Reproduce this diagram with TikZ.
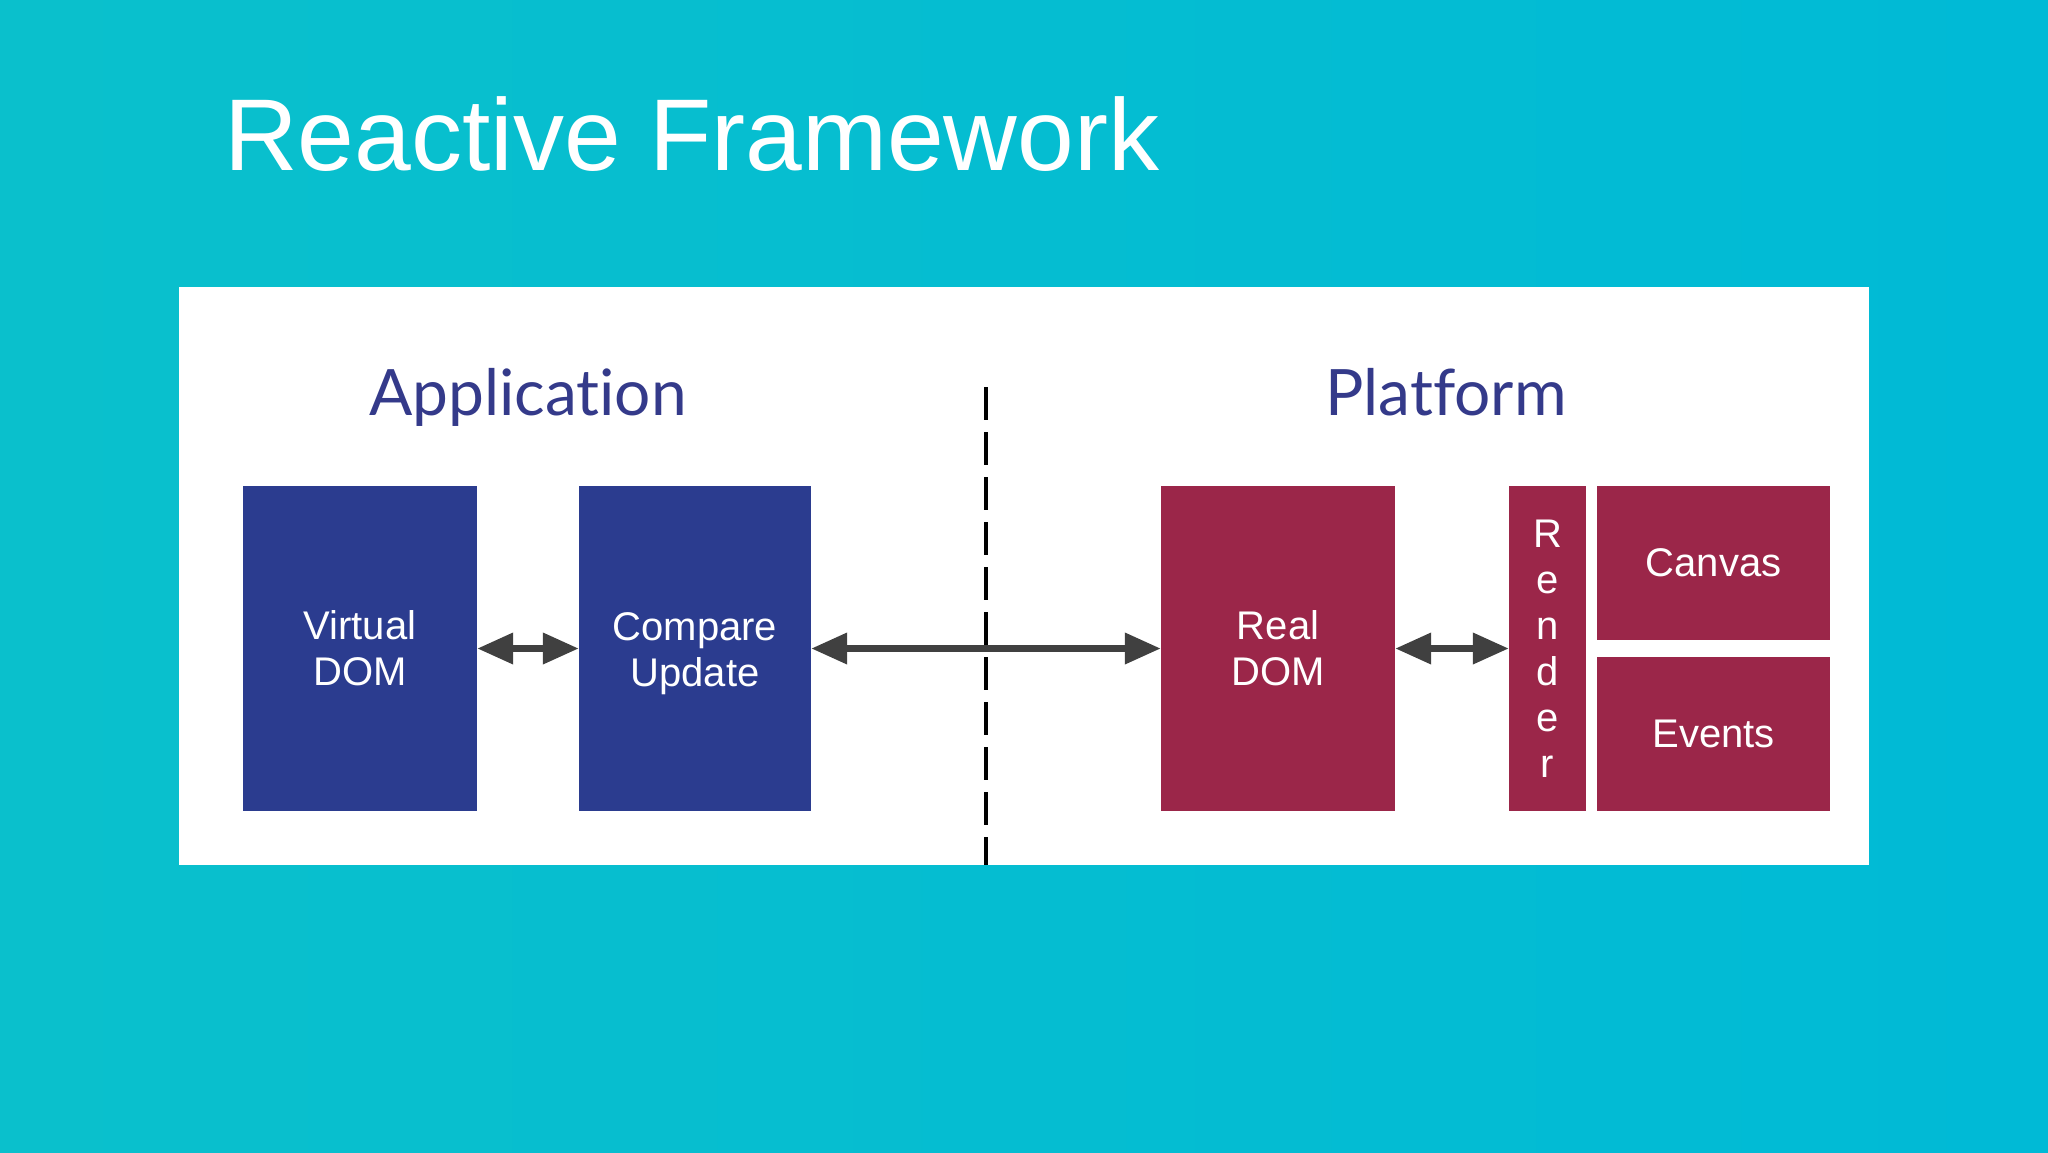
\documentclass[tikz,border=0pt]{standalone}
\usepackage{fontspec}
\setmainfont{Liberation Sans}
\newfontfamily\headfont[Ligatures={NoCommon,NoRequired,NoContextual}]{Lato}
\usetikzlibrary{arrows.meta,calc,positioning}
\definecolor{appblue}{RGB}{43,60,143}
\definecolor{platred}{RGB}{155,38,73}
\definecolor{headblue}{RGB}{52,58,138}
\definecolor{arrowgray}{RGB}{64,64,64}
\definecolor{bgleft}{RGB}{10,192,204}
\definecolor{bgright}{RGB}{0,186,214}
\tikzset{>={Triangle[length=36pt,width=30pt]}}
\tikzstyle{blockl}=[rectangle,fill=appblue,text=white,minimum width=234pt,minimum height=325pt,align=center,inner sep=0pt,font=\fontsize{40}{46}\selectfont]
\tikzstyle{blockr}=[blockl,fill=platred]
\tikzstyle{link}=[<->,draw=arrowgray,line width=7pt]
\tikzstyle{head}=[text=headblue,font=\headfont\fontsize{64}{70}\selectfont,anchor=base,inner sep=0pt]

\begin{document}
\begin{tikzpicture}[x=1pt,y=-1pt]
	\def \ymid {648.5};
	\def \xdiv {986};

	\useasboundingbox (0,0) rectangle (2048,1152);
	\shade[left color=bgleft,right color=bgright] (0,0) rectangle (2048,1152);
	\fill[white] (179,287) rectangle (1869,865);

	\node[anchor=base west,text=white,inner sep=0pt,font=\fontsize{102}{110}\selectfont] (title) at (224,170) {Reactive Framework};
	\node[head] (app) at (528,415) {Application};
	\node[head] (plat) at (1446,415) {Platform};

	\coordinate (divtop) at (\xdiv,387);
	\coordinate (divbot) at (\xdiv,865);
	\draw[black,line width=4pt,dash pattern=on 33pt off 12pt] (divtop) -- (divbot);

	\node[blockl] (vdom) at (360,\ymid) {Virtual\\DOM};
	\node[blockl,minimum width=232pt] (cmp) at (695,\ymid) {};
	\node (cmptext) at (cmp) [yshift=-5pt,text=white,align=center,inner sep=0pt,font=\fontsize{40}{46}\selectfont] {Compare\\Update};
	\node[blockr] (rdom) at (1278,\ymid) {Real\\DOM};
	\node[blockr,minimum width=77pt] (render) at (1547.5,\ymid) {R\\e\\n\\d\\e\\r};
	\node[blockr,minimum width=233pt,minimum height=154pt] (canvas) at (1713.5,563) {Canvas};
	\node[blockr,minimum width=233pt,minimum height=154pt] (events) at (1713.5,734) {Events};

	\draw[link] (vdom) -- (cmp);
	\draw[link] (cmp) -- (rdom);
	\draw[link] (rdom) -- (render);
\end{tikzpicture}
\end{document}
